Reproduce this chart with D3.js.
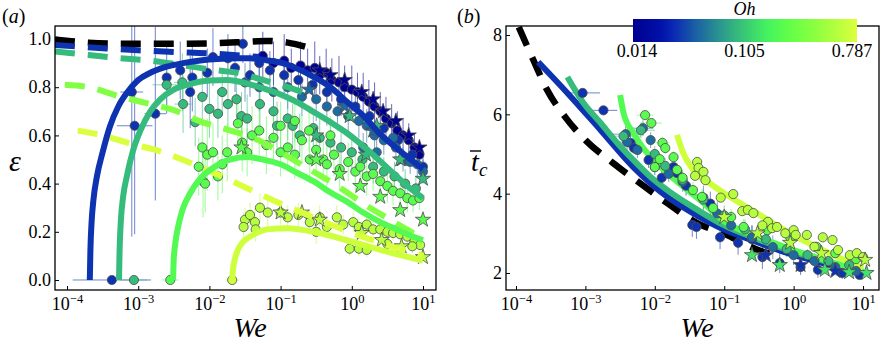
<!DOCTYPE html>
<html>
<head>
<meta charset="utf-8">
<script src="https://cdn.jsdelivr.net/npm/d3@7"></script>
</head>
<body style="margin:0">
<script>
// Data ////////////////////////////////////////////////////////////////////
// every x value below is log10(We)

const weTicks = [1e-4, 1e-3, 1e-2, 1e-1, 1, 10];
const epsTicks = [0, 0.2, 0.4, 0.6, 0.8, 1.0];
const tcTicks = [2, 4, 6, 8];
const ohTicks = [0.014, 0.105, 0.787];
const ohRange = [0.013, 0.865];

const cmapPos = [0, 0.12, 0.18, 0.28, 0.38, 0.48, 0.6, 0.7, 0.82, 1];
const cmapCol = ["#000090", "#0010a8", "#0a28b4", "#1a60a4", "#2a9290",
  "#36c07a", "#44f45e", "#62ff48", "#8eff40", "#dcff3c"];

// (a) model curves, eps vs We
const fitOh = [0.03, 0.093, 0.2, 0.75];
const epsFitBlue = [[-3.68,0],[-3.672,0.12],[-3.655,0.24],[-3.63,0.33],[-3.58,0.43],[-3.5,0.53],[-3.4,0.635],[-3.28,0.72],[-3.16,0.776],[-3.0,0.83],[-2.83,0.86],[-2.6,0.885],[-2.37,0.9],[-2.1,0.912],[-1.89,0.917],[-1.6,0.92],[-1.43,0.92],[-1.2,0.912],[-0.97,0.9],[-0.75,0.875],[-0.55,0.845],[-0.3,0.8],[-0.07,0.74],[0.15,0.685],[0.4,0.605],[0.7,0.53],[1.0,0.46]];
const epsFitTeal = [[-3.27,0],[-3.262,0.12],[-3.245,0.24],[-3.21,0.35],[-3.16,0.43],[-3.07,0.54],[-2.97,0.62],[-2.83,0.7],[-2.69,0.75],[-2.5,0.79],[-2.31,0.81],[-2.0,0.828],[-1.75,0.83],[-1.47,0.815],[-1.19,0.79],[-1.0,0.77],[-0.75,0.735],[-0.55,0.7],[-0.3,0.655],[-0.07,0.61],[0.3,0.52],[0.54,0.455],[0.78,0.39],[1.0,0.34]];
const epsFitGreen = [[-2.51,0],[-2.502,0.08],[-2.48,0.15],[-2.44,0.22],[-2.38,0.29],[-2.27,0.36],[-2.13,0.42],[-1.95,0.465],[-1.71,0.5],[-1.47,0.51],[-1.25,0.5],[-1.0,0.48],[-0.77,0.445],[-0.54,0.41],[-0.31,0.365],[-0.07,0.325],[0.16,0.28],[0.4,0.24],[0.63,0.21],[0.86,0.18],[1.0,0.165]];
const epsFitYellow = [[-1.68,0],[-1.672,0.035],[-1.655,0.07],[-1.63,0.1],[-1.6,0.125],[-1.55,0.15],[-1.43,0.18],[-1.3,0.2],[-1.19,0.21],[-0.91,0.215],[-0.54,0.2],[-0.07,0.165],[0.4,0.125],[1.0,0.08]];

// (a) limiting curves, dashed (null = black)
const limitOh = [null, 0.03, 0.093, 0.35, 0.85];
const epsLimitBlack = [[-4.17,0.998],[-3.7,0.985],[-3.2,0.98],[-2.5,0.98],[-2.0,0.982],[-1.5,0.988],[-1.2,0.992],[-0.9,0.985],[-0.56,0.96]];
const epsLimitBlue = [[-4.17,0.975],[-3.5,0.962],[-3.0,0.953],[-2.5,0.946],[-2.0,0.94],[-1.5,0.93],[-1.3,0.925]];
const epsLimitTeal = [[-4.17,0.948],[-3.7,0.934],[-3.3,0.922],[-2.8,0.909],[-2.35,0.89],[-1.9,0.87],[-1.6,0.86],[-1.25,0.83],[-0.9,0.8],[-0.6,0.77]];
const epsLimitGreen = [[-4.03,0.81],[-3.7,0.8],[-3.3,0.765],[-2.9,0.735],[-2.5,0.705],[-2.1,0.655],[-1.7,0.62],[-1.35,0.585],[-1.0,0.53],[-0.6,0.46],[-0.2,0.39],[0.2,0.31],[0.6,0.24],[1.0,0.17]];
const epsLimitYellow = [[-3.85,0.62],[-3.5,0.6],[-3.1,0.565],[-2.7,0.535],[-2.3,0.49],[-1.9,0.44],[-1.5,0.385],[-1.1,0.33],[-0.7,0.28],[-0.3,0.23],[0.1,0.185],[0.5,0.145],[1.0,0.1]];

// (a) measurements: [logWe, eps, eps error, logWe error]
const epsGroupOh = [0.014, 0.03, 0.046, 0.093, 0.22, 0.6];
const epsNavy = [[-1.25,0.93,0.1],[-1.1,0.9,0.09],[-0.95,0.91,0.11],[-0.85,0.88,0.08],[-0.72,0.89,0.1],[-0.62,0.87,0.09],[-0.52,0.88,0.11],[-0.45,0.85,0.08],[-0.36,0.86,0.1],[-0.28,0.83,0.09],[-0.18,0.82,0.11],[-0.1,0.8,0.09],[0.0,0.79,0.1],[0.08,0.78,0.08],[0.16,0.76,0.1],[0.24,0.74,0.09],[0.32,0.72,0.1],[0.4,0.7,0.08],[0.48,0.67,0.09],[0.56,0.65,0.08],[0.64,0.62,0.08],[0.72,0.6,0.07],[0.8,0.58,0.07],[0.88,0.55,0.06],[0.95,0.52,0.05]];
const epsBlue = [[-3.09,0.78,0.6,0.16],[-3.05,0.64,0.45,0.25],[-2.76,0.69,0.36,0.15],[-2.6,0.84,0.15,0.05],[-2.41,0.87,0.12],[-2.27,0.78,0.15,0.06],[-2.24,0.84,0.14],[-2.03,0.86,0.1],[-1.95,0.925,0.12],[-1.74,0.92,0.1],[-1.64,0.88,0.1],[-1.53,0.98,0.08],[-1.43,0.85,0.09],[-1.3,0.9,0.1],[-1.15,0.87,0.08],[-0.95,0.85,0.08],[-0.75,0.83,0.08],[-0.55,0.81,0.07],[-0.35,0.78,0.07],[-0.15,0.75,0.07],[0.05,0.72,0.06],[0.25,0.68,0.06],[0.45,0.63,0.06],[0.65,0.58,0.05],[0.85,0.52,0.05],[1.0,0.47,0.05]];
const epsTeal = [[-1.5,0.82,0.08],[-1.3,0.8,0.1],[-1.1,0.78,0.08],[-0.9,0.8,0.09],[-0.7,0.76,0.08],[-0.5,0.75,0.09],[-0.35,0.72,0.08],[-0.2,0.7,0.08],[-0.05,0.68,0.07],[0.1,0.66,0.07],[0.21,0.64,0.07],[0.32,0.6,0.06],[0.45,0.58,0.06],[0.58,0.59,0.06],[0.62,0.55,0.05],[0.72,0.5,0.05],[0.82,0.49,0.05],[0.92,0.48,0.05],[1.0,0.45,0.05],[0.16,0.55,0.06],[0.35,0.53,0.06]];
const epsTealGreen = [[-2.6,0.81,0.1,0.2],[-2.38,0.82,0.12,0.12],[-2.37,0.73,0.12,0.12],[-2.2,0.655,0.1],[-2.1,0.76,0.12],[-2.0,0.71,0.12],[-1.88,0.69,0.1],[-1.82,0.78,0.1],[-1.74,0.73,0.1],[-1.62,0.75,0.1],[-1.55,0.68,0.1],[-1.47,0.67,0.1],[-1.29,0.73,0.1],[-1.1,0.7,0.09],[-1.05,0.64,0.1],[-0.9,0.67,0.09],[-0.83,0.64,0.09],[-0.73,0.6,0.09],[-0.54,0.63,0.08],[-0.45,0.59,0.08],[-0.3,0.57,0.08],[-0.15,0.55,0.08],[0.0,0.53,0.07],[0.15,0.5,0.07],[0.3,0.47,0.07],[0.45,0.45,0.06],[0.6,0.43,0.06],[0.75,0.4,0.06],[0.9,0.38,0.05]];
const epsGreen = [[-2.1,0.55,0.12],[-2.03,0.52,0.15],[-1.95,0.53,0.12],[-1.82,0.48,0.12],[-2.09,0.41,0.15],[-2.06,0.4,0.12],[-2.15,0.47,0.12],[-1.88,0.43,0.1],[-1.75,0.53,0.12],[-1.54,0.57,0.12],[-1.47,0.53,0.1],[-1.4,0.6,0.12],[-1.3,0.62,0.1],[-1.2,0.56,0.12],[-1.1,0.59,0.1],[-1.0,0.53,0.1],[-0.9,0.55,0.1],[-0.8,0.52,0.1],[-0.7,0.58,0.1],[-0.59,0.5,0.1],[-0.5,0.54,0.09],[-0.4,0.5,0.09],[-0.35,0.48,0.09],[-0.25,0.52,0.09],[-0.17,0.46,0.09],[-0.05,0.49,0.08],[0.05,0.45,0.08],[0.12,0.47,0.08],[0.21,0.43,0.08],[0.3,0.44,0.07],[0.4,0.41,0.07],[0.5,0.39,0.07],[0.58,0.37,0.06],[0.68,0.36,0.06],[0.78,0.34,0.06],[0.86,0.33,0.05],[0.95,0.34,0.05],[-1.6,0.65,0.1],[-1.0,0.64,0.1],[-0.6,0.62,0.09],[-0.8,0.66,0.09],[-0.3,0.6,0.08]];
const epsYellow = [[-1.5,0.25,0.05],[-1.52,0.22,0.06],[-1.43,0.27,0.05],[-1.36,0.24,0.06],[-1.29,0.3,0.06],[-1.35,0.21,0.05],[-1.18,0.28,0.06],[-1.0,0.28,0.05],[-0.9,0.26,0.05],[-0.75,0.27,0.05],[-0.59,0.24,0.05],[-0.5,0.2,0.05],[-0.45,0.26,0.05],[-0.35,0.22,0.04],[-0.21,0.26,0.05],[-0.12,0.23,0.04],[0.02,0.24,0.04],[0.1,0.22,0.04],[0.21,0.23,0.04],[0.3,0.21,0.04],[0.4,0.21,0.04],[0.5,0.2,0.04],[0.58,0.195,0.03],[0.68,0.19,0.03],[0.78,0.18,0.03],[0.88,0.16,0.03],[0.96,0.145,0.03],[-0.03,0.13,0.03],[0.1,0.13,0.03],[0.21,0.125,0.03],[0.5,0.15,0.03],[0.85,0.14,0.03]];
const epsNavyStars = [[-0.45,0.87],[-0.3,0.85],[-0.1,0.83],[0.14,0.78],[0.3,0.75],[0.44,0.7],[0.62,0.66],[0.8,0.6],[0.95,0.55]];
const epsTealStars = [[-0.6,0.79],[-0.1,0.72],[0.3,0.62],[0.7,0.5]];
const epsTealGreenStars = [[-0.03,0.68],[0.35,0.64],[0.68,0.5],[1.0,0.42],[-0.5,0.6],[0.2,0.52]];
const epsGreenStars = [[-0.17,0.44],[0.12,0.39],[0.4,0.345],[0.68,0.29],[1.0,0.25],[-1.55,0.55],[-0.5,0.5]];
const epsYellowStars = [[-1.0,0.28],[-0.7,0.28],[-0.45,0.25],[0.14,0.195],[0.42,0.166],[0.7,0.14],[1.0,0.095]];
// no rebound (eps = 0)
const zeroWe = [-3.37, -3.06, -2.55, -1.68];
const zeroOh = [0.03, 0.093, 0.2, 0.75];
const zeroWeErr = [0.55, 0.19, 0.12, 0.1];

// (b) contact time
const tcLimitBlack = [[-3.96,8.2],[-3.75,7.37],[-3.55,6.61],[-3.29,5.93],[-3.0,5.35],[-2.6,4.77],[-2.18,4.22],[-1.82,3.76],[-1.39,3.26],[-0.96,2.96],[-0.51,2.58],[-0.34,2.48]];
const tcFitBlue = [[-3.68,7.32],[-3.26,6.54],[-2.78,5.6],[-2.31,4.67],[-1.82,3.92],[-1.45,3.51],[-1.01,3.1],[-0.53,2.78],[-0.05,2.48],[0.42,2.25],[1.0,2.0]];
const tcFitTeal = [[-3.26,6.94],[-3.03,6.29],[-2.78,5.78],[-2.54,5.28],[-2.31,4.85],[-2.06,4.42],[-1.82,4.09],[-1.45,3.66],[-1.0,3.2],[-0.5,2.84],[0,2.53],[0.5,2.27],[1.0,2.03]];
const tcFitGreen = [[-2.5,6.49],[-2.45,6.03],[-2.31,5.53],[-2.11,5.02],[-1.82,4.52],[-1.53,4.09],[-1.35,3.84],[-1.0,3.3],[-0.5,2.9],[0,2.58],[0.5,2.3],[1.0,2.06]];
const tcFitYellow = [[-1.68,5.48],[-1.59,5.02],[-1.45,4.6],[-1.2,4.25],[-1.01,4.02],[-0.53,3.51],[-0.05,3.0],[0.42,2.58],[1.0,2.12]];

const tcGroupOh = [0.03, 0.046, 0.093, 0.22, 0.6];
const tcBlue = [[-3.04,6.54,0,0.25],[-2.74,6.1,0,0.2],[-2.35,5.28,0.2,0.1],[-2.3,5.15,0.15],[-2.09,4.85,0.2],[-2.0,4.67,0.2],[-1.73,4.67,0.25],[-1.68,4.52,0.2],[-1.46,3.21,0.3],[-1.4,3.16,0.3],[-1.9,4.4,0.2],[-1.55,4.2,0.25],[-1.2,3.75,0.3],[-1.06,2.9,0.3],[-0.8,2.76,0.3],[-0.6,2.85,0.35],[-0.45,2.4,0.3],[-0.2,2.25,0.25],[0.1,2.15,0.2],[0.35,2.08,0.2],[0.7,2.0,0.15],[0.95,1.95,0.1]];
const tcTeal = [[-2.42,5.5,0.2,0.2],[-2.4,5.3,0.2,0.15],[-2.17,5.65,0.2,0.15],[-2.06,5.35,0.2],[-2.25,5.1,0.2],[-1.8,4.5,0.2],[-1.6,4.3,0.25],[-1.3,3.9,0.3],[-1.1,3.5,0.3],[-0.9,3.2,0.35],[-0.6,2.9,0.3],[-0.3,2.65,0.3],[0.0,2.45,0.25],[0.3,2.3,0.2],[0.6,2.15,0.15],[0.9,2.05,0.1]];
const tcTealGreen = [[-2.45,5.45,0.15,0.25],[-2.2,5.6,0.2,0.2],[-2.0,5.0,0.2],[-1.85,4.7,0.2],[-1.6,4.35,0.25],[-1.3,3.85,0.25],[-1.0,3.45,0.25],[-0.7,3.1,0.25],[-0.4,2.85,0.2],[-0.1,2.6,0.2],[0.2,2.45,0.15],[0.5,2.3,0.15],[0.8,2.2,0.1]];
const tcGreen = [[-2.14,5.98,0,0.12],[-2.05,5.78,0,0.15],[-1.89,5.28,0.15,0.1],[-1.85,5.15,0.15],[-1.93,4.87,0.15],[-1.73,4.92,0.15],[-1.68,4.6,0.2],[-2.0,4.67,0.15],[-1.6,4.4,0.2],[-1.45,4.09,0.2],[-1.32,3.92,0.2],[-1.16,3.64,0.2],[-0.9,3.41,0.2],[-0.72,3.16,0.2],[-0.38,3.08,0.15],[-0.05,2.9,0.15],[0.33,2.66,0.1],[0.6,2.5,0.1],[0.9,2.35,0.1]];
const tcYellow = [[-1.39,4.8,0.1],[-1.37,4.65,0.1],[-1.3,4.55,0.1],[-1.27,4.34,0.1],[-1.42,4.45,0.1],[-0.87,3.99,0.1],[-0.74,3.56,0.1],[-0.66,3.59,0.1],[-0.58,3.51,0.1],[-0.37,3.29,0.1],[-0.31,3.13,0.1],[-0.24,3.16,0.1],[-0.12,3.0,0.1],[0.0,3.08,0.1],[0.03,2.96,0.1],[0.19,2.96,0.1],[0.3,2.66,0.1],[0.42,2.9,0.1],[0.56,2.83,0.1],[0.64,2.58,0.1],[0.81,2.45,0.08],[0.91,2.5,0.08],[1.0,2.4,0.08],[-1.05,3.9,0.1],[-0.45,3.2,0.1]];
const tcNavyStars = [[-0.4,2.45],[0.1,2.2],[0.6,2.05]];
const tcGreenStars = [[0.45,2.08],[0.8,2.02],[1.05,2.0],[-0.2,2.2],[-0.6,2.45]];
const tcYellowStars = [[-1.0,3.41],[-0.52,3.0],[-0.05,2.76],[0.4,2.5],[1.03,2.33]];

// Setup ///////////////////////////////////////////////////////////////////

const serif = '"Liberation Serif"';

const frameA = { left: 55, right: 436, top: 26, bottom: 290 };
const frameB = { left: 506, right: 879, top: 26, bottom: 290 };

const xA = d3.scaleLog().domain([10 ** -4.169, 10 ** 1.183]).range([frameA.left, frameA.right]);
const yA = d3.scaleLinear().domain([-0.0415, 1.054]).range([frameA.bottom, frameA.top]);
const xB = d3.scaleLog().domain([10 ** -4.144, 10 ** 1.23]).range([frameB.left, frameB.right]);
const yB = d3.scaleLinear().domain([1.571, 8.227]).range([frameB.bottom, frameB.top]);

const ohToT = d3.scaleLog().domain(ohRange).range([0, 1]).clamp(true);
const cmap = d3.scaleLinear().domain(cmapPos).range(cmapCol);
const ohColor = (oh) => (oh == null ? "#000" : cmap(ohToT(oh)));

const svg = d3.select("body").append("svg").attr("width", 881).attr("height", 345);
const defs = svg.append("defs");

// a text element that carries its own serif face
function addText(parent, size) {
  return parent.append("text").style("font-family", serif).attr("font-size", size);
}

drawPanel("clipA", frameA, xA, yA, drawContentA);
drawPanel("clipB", frameB, xB, yB, drawContentB);
drawAxes(frameA, xA, yA, epsTicks, d3.format(".1f"));
drawAxes(frameB, xB, yB, tcTicks, d3.format("d"));
drawLabels();
drawColorbar();

// Panels //////////////////////////////////////////////////////////////////

function drawPanel(id, frame, x, y, content) {
  defs.append("clipPath").attr("id", id).append("rect")
    .attr("x", frame.left).attr("y", frame.top)
    .attr("width", frame.right - frame.left).attr("height", frame.bottom - frame.top);
  const g = svg.append("g").attr("clip-path", `url(#${id})`);
  content(g, x, y);
}

function drawContentA(g, x, y) {
  const circles = [epsNavy, epsBlue, epsTeal, epsTealGreen, epsGreen, epsYellow];
  const stars = [epsNavyStars, [], epsTealStars, epsTealGreenStars, epsGreenStars, epsYellowStars];
  const zeros = zeroWe.map((w, i) => [w, 0, 0, zeroWeErr[i]]);

  const eb = g.append("g");
  circles.forEach((pts, i) => drawErrorBars(eb, x, y, pts, epsGroupOh[i]));
  zeros.forEach((p, i) => drawErrorBars(eb, x, y, [p], zeroOh[i]));

  const mk = g.append("g");
  circles.forEach((pts, i) => {
    drawCircles(mk, x, y, pts, epsGroupOh[i]);
    drawStars(mk, x, y, stars[i], epsGroupOh[i]);
  });

  const lines = g.append("g");
  [epsLimitBlack, epsLimitBlue, epsLimitTeal, epsLimitGreen, epsLimitYellow]
    .forEach((pts, i) => drawCurve(lines, x, y, pts, limitOh[i], true));
  [epsFitBlue, epsFitTeal, epsFitGreen, epsFitYellow]
    .forEach((pts, i) => drawCurve(lines, x, y, pts, fitOh[i], false));

  zeros.forEach((p, i) => drawCircles(mk, x, y, [p], zeroOh[i]));
}

function drawContentB(g, x, y) {
  const circles = [tcBlue, tcTeal, tcTealGreen, tcGreen, tcYellow];

  const eb = g.append("g");
  circles.forEach((pts, i) => drawErrorBars(eb, x, y, pts, tcGroupOh[i]));

  const lines = g.append("g");
  drawCurve(lines, x, y, tcLimitBlack, null, true);
  [tcFitBlue, tcFitTeal, tcFitGreen, tcFitYellow]
    .forEach((pts, i) => drawCurve(lines, x, y, pts, fitOh[i], false));

  const mk = g.append("g");
  circles.forEach((pts, i) => drawCircles(mk, x, y, pts, tcGroupOh[i]));
  drawStars(mk, x, y, tcNavyStars, 0.03);
  drawStars(mk, x, y, tcGreenStars, 0.14);
  drawStars(mk, x, y, tcYellowStars, 0.6);
}

// Marks ///////////////////////////////////////////////////////////////////

function drawErrorBars(g, x, y, pts, oh) {
  const c = ohColor(oh);
  g.selectAll(null)
    .data(pts.filter((d) => d[2] > 0))
    .join("line")
    .attr("x1", (d) => x(10 ** d[0]))
    .attr("x2", (d) => x(10 ** d[0]))
    .attr("y1", (d) => y(d[1] - d[2]))
    .attr("y2", (d) => y(d[1] + d[2]))
    .attr("stroke", c)
    .attr("stroke-opacity", 0.6)
    .attr("stroke-width", 1);
  g.selectAll(null)
    .data(pts.filter((d) => d[3] > 0))
    .join("line")
    .attr("x1", (d) => x(10 ** (d[0] - d[3])))
    .attr("x2", (d) => x(10 ** (d[0] + d[3])))
    .attr("y1", (d) => y(d[1]))
    .attr("y2", (d) => y(d[1]))
    .attr("stroke", c)
    .attr("stroke-opacity", 0.6)
    .attr("stroke-width", 1);
}

function drawCircles(g, x, y, pts, oh) {
  g.selectAll(null)
    .data(pts)
    .join("circle")
    .attr("cx", (d) => x(10 ** d[0]))
    .attr("cy", (d) => y(d[1]))
    .attr("r", 4.6)
    .attr("fill", ohColor(oh))
    .attr("stroke", "#4d4d4d")
    .attr("stroke-width", 0.8);
}

function drawStars(g, x, y, pts, oh) {
  g.selectAll(null)
    .data(pts)
    .join("path")
    .attr("d", d3.symbol(d3.symbolStar, 72))
    .attr("transform", (d) => `translate(${x(10 ** d[0])},${y(d[1])})`)
    .attr("fill", ohColor(oh))
    .attr("stroke", "#4d4d4d")
    .attr("stroke-width", 0.8);
}

function drawCurve(g, x, y, pts, oh, dashed) {
  const line = d3.line()
    .x((d) => x(10 ** d[0]))
    .y((d) => y(d[1]))
    .curve(d3.curveMonotoneX);
  g.append("path")
    .attr("d", line(pts))
    .attr("fill", "none")
    .attr("stroke", ohColor(oh))
    .attr("stroke-width", oh == null ? 6.5 : 6)
    .attr("stroke-dasharray", dashed ? "20,13" : null);
}

// Axes ////////////////////////////////////////////////////////////////////
// ticks come from d3 axes, labels are placed by hand so each has its face

function drawAxes(frame, x, y, yTicks, yFormat) {
  const bottom = svg.append("g")
    .attr("transform", `translate(0,${frame.bottom})`)
    .call(d3.axisBottom(x).tickValues(weTicks).tickSize(-4).tickSizeOuter(0).tickFormat(""));
  bottom.select(".domain").remove();
  bottom.selectAll(".tick text").remove();
  bottom.selectAll(".tick").each(function (d) {
    const t = addText(d3.select(this), 18)
      .attr("y", 20).attr("fill", "#000").attr("text-anchor", "middle");
    t.append("tspan").text("10");
    t.append("tspan").attr("dy", -7).attr("font-size", 12.5)
      .text(String(Math.round(Math.log10(d))).replace("-", "\u2212"));
  });

  const left = svg.append("g")
    .attr("transform", `translate(${frame.left},0)`)
    .call(d3.axisLeft(y).tickValues(yTicks).tickSize(-4).tickSizeOuter(0).tickFormat(""));
  left.select(".domain").remove();
  left.selectAll(".tick text").remove();
  left.selectAll(".tick").each(function (d) {
    addText(d3.select(this), 18)
      .attr("x", -4).attr("dy", "0.32em").attr("fill", "#000").attr("text-anchor", "end")
      .text(yFormat(d));
  });

  svg.append("rect")
    .attr("x", frame.left).attr("y", frame.top)
    .attr("width", frame.right - frame.left).attr("height", frame.bottom - frame.top)
    .attr("fill", "none").attr("stroke", "#000").attr("stroke-width", 1.3);
}

// Labels //////////////////////////////////////////////////////////////////

function drawLabels() {
  const panelTag = (xPos, letter) => {
    const t = addText(svg, 20).attr("x", xPos).attr("y", 23);
    t.append("tspan").text("(");
    t.append("tspan").attr("font-style", "italic").text(letter);
    t.append("tspan").text(")");
  };
  panelTag(2, "a");
  panelTag(457, "b");

  [250, 697].forEach((xPos) =>
    addText(svg, 28).text("We").attr("x", xPos).attr("y", 337)
      .attr("font-style", "italic").attr("text-anchor", "middle"));

  addText(svg, 30).text("\u03b5").attr("x", 15).attr("y", 171)
    .attr("font-style", "italic").attr("text-anchor", "middle");

  addText(svg, 28).text("t").attr("x", 471).attr("y", 171).attr("font-style", "italic");
  svg.append("line").attr("x1", 470).attr("x2", 481).attr("y1", 151).attr("y2", 151)
    .attr("stroke", "#000").attr("stroke-width", 1.4);
  addText(svg, 19).text("c").attr("x", 479).attr("y", 176).attr("font-style", "italic");
}

function drawColorbar() {
  const cb = { left: 633, right: 857, top: 19, bottom: 42 };
  const cbX = d3.scaleLog().domain(ohRange).range([cb.left, cb.right]);
  const grad = defs.append("linearGradient").attr("id", "ohGrad");
  grad.selectAll("stop").data(cmapPos).join("stop")
    .attr("offset", (d) => `${d * 100}%`)
    .attr("stop-color", (d, i) => cmapCol[i]);
  svg.append("rect")
    .attr("x", cb.left).attr("y", cb.top)
    .attr("width", cb.right - cb.left).attr("height", cb.bottom - cb.top)
    .attr("fill", "url(#ohGrad)");
  ohTicks.forEach((d) =>
    addText(svg, 18).attr("x", cbX(d)).attr("y", 57).attr("text-anchor", "middle")
      .text(d3.format(".3f")(d)));
  addText(svg, 18).text("Oh").attr("x", cbX(0.105)).attr("y", 15)
    .attr("font-style", "italic").attr("text-anchor", "middle");
}
</script>
</body>
</html>
